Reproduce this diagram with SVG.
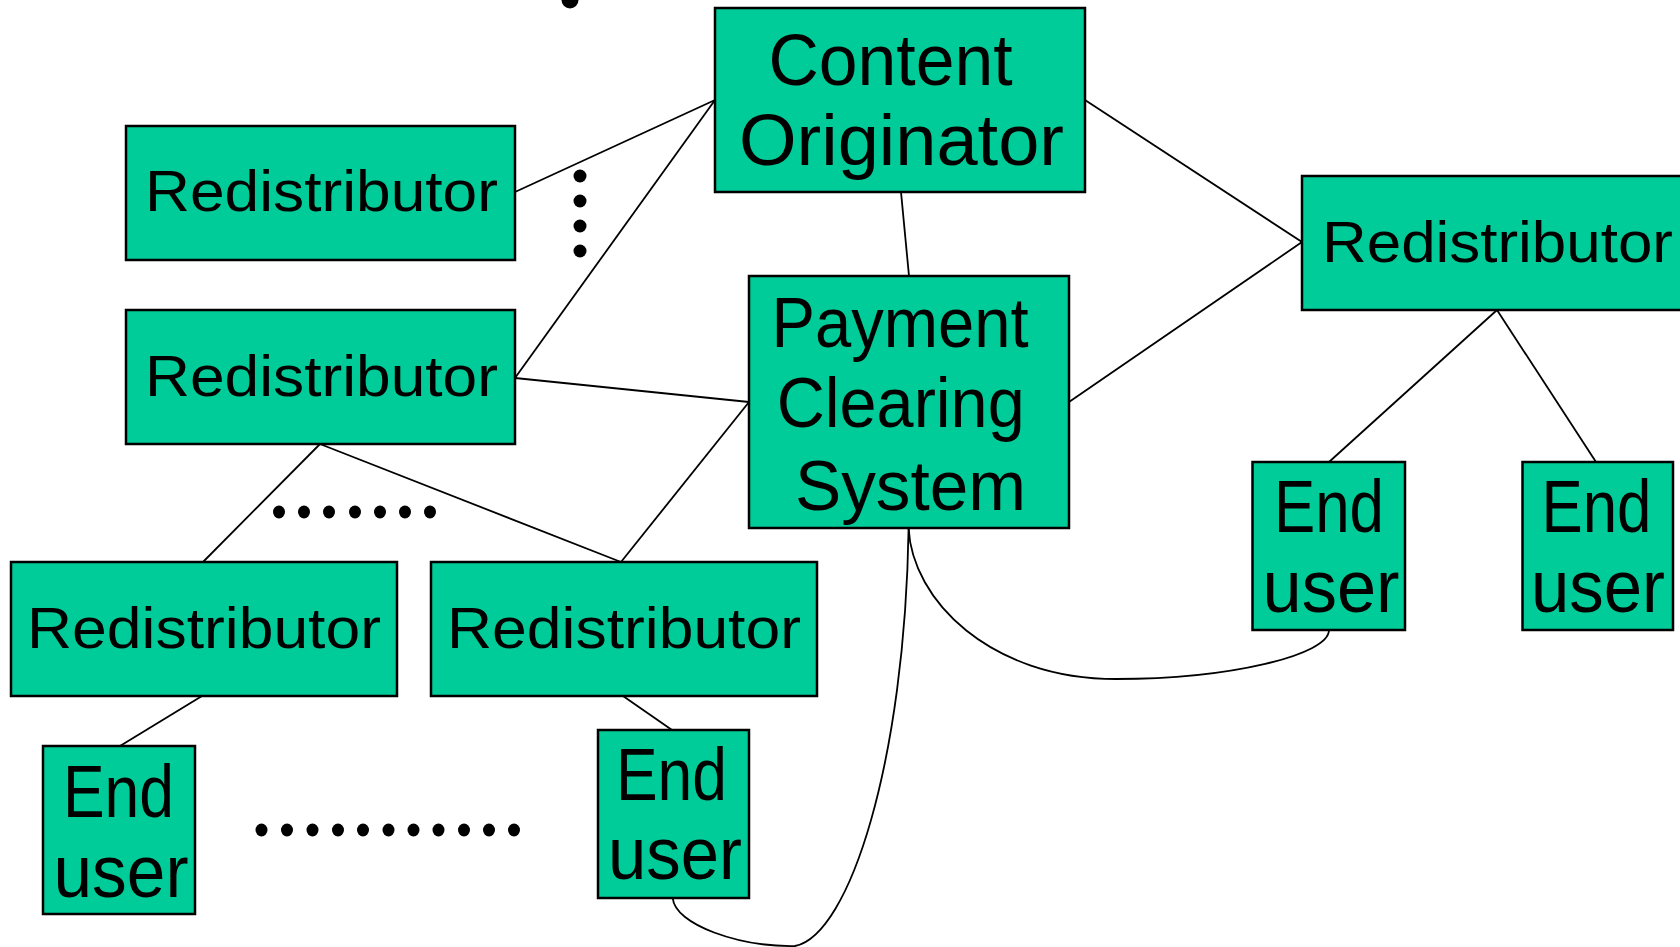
<svg xmlns="http://www.w3.org/2000/svg" width="1680" height="947" viewBox="0 0 1680 947">
<style>
.box{fill:#00CC99;stroke:#000;stroke-width:2.5}
.lbl{font-family:"Liberation Sans",Arial,sans-serif;fill:#000;text-anchor:middle}
.r{font-size:58px}
.c{font-size:72px}
.p{font-size:70px}
.e{font-size:75px}
.ln{fill:none;stroke:#000;stroke-width:1.8}
.dot{fill:#000}
</style>
<rect width="1680" height="947" fill="#fff"/>
<g id="connectors">
<line class="ln" x1="515" y1="192" x2="715" y2="100"/>
<line class="ln" x1="515" y1="378" x2="715" y2="100"/>
<line class="ln" x1="515" y1="378" x2="749" y2="402"/>
<line class="ln" x1="901" y1="192" x2="909" y2="276"/>
<line class="ln" x1="1085" y1="100" x2="1302" y2="242"/>
<line class="ln" x1="1069" y1="402" x2="1302" y2="242"/>
<line class="ln" x1="1497" y1="310" x2="1329" y2="462"/>
<line class="ln" x1="1497" y1="310" x2="1596" y2="462"/>
<line class="ln" x1="320" y1="444" x2="203" y2="562"/>
<line class="ln" x1="320" y1="444" x2="621" y2="562"/>
<line class="ln" x1="749" y1="402" x2="621" y2="562"/>
<line class="ln" x1="202" y1="696" x2="120" y2="746"/>
<line class="ln" x1="623" y1="696" x2="672" y2="730"/>
<path class="ln" d="M908.6,528 C912,600 990,679 1116,679 C1230,679 1329,655 1329,630"/>
<path class="ln" d="M908.6,528 C905,760 850,935 795,946 C740,947 675,925 672.7,898"/>
</g>
<g id="dots">
<ellipse class="dot" cx="570" cy="0" rx="8.5" ry="8.5"/>
<ellipse class="dot" cx="580" cy="176" rx="6.5" ry="6.5"/>
<ellipse class="dot" cx="580" cy="201" rx="6.5" ry="6.5"/>
<ellipse class="dot" cx="580" cy="226" rx="6.5" ry="6.5"/>
<ellipse class="dot" cx="580" cy="251" rx="6.5" ry="6.5"/>
<ellipse class="dot" cx="279" cy="512" rx="6" ry="6.5"/>
<ellipse class="dot" cx="304" cy="512" rx="6" ry="6.5"/>
<ellipse class="dot" cx="329" cy="512" rx="6" ry="6.5"/>
<ellipse class="dot" cx="355" cy="512" rx="6" ry="6.5"/>
<ellipse class="dot" cx="380" cy="512" rx="6" ry="6.5"/>
<ellipse class="dot" cx="405" cy="512" rx="6" ry="6.5"/>
<ellipse class="dot" cx="430" cy="512" rx="6" ry="6.5"/>
<ellipse class="dot" cx="261.5" cy="830" rx="6" ry="6.5"/>
<ellipse class="dot" cx="287" cy="830" rx="6" ry="6.5"/>
<ellipse class="dot" cx="312.5" cy="830" rx="6" ry="6.5"/>
<ellipse class="dot" cx="338" cy="830" rx="6" ry="6.5"/>
<ellipse class="dot" cx="363" cy="830" rx="6" ry="6.5"/>
<ellipse class="dot" cx="388.5" cy="830" rx="6" ry="6.5"/>
<ellipse class="dot" cx="413.5" cy="830" rx="6" ry="6.5"/>
<ellipse class="dot" cx="438.5" cy="830" rx="6" ry="6.5"/>
<ellipse class="dot" cx="464" cy="830" rx="6" ry="6.5"/>
<ellipse class="dot" cx="489" cy="830" rx="6" ry="6.5"/>
<ellipse class="dot" cx="514" cy="830" rx="6" ry="6.5"/>
</g>
<g id="content-originator">
<rect class="box" x="715" y="8" width="370" height="184"/>
<text class="lbl c" x="890.5" y="85" textLength="244" lengthAdjust="spacingAndGlyphs">Content</text>
<text class="lbl c" x="901.5" y="165" textLength="325" lengthAdjust="spacingAndGlyphs">Originator</text>
</g>
<g id="redistributor-1">
<rect class="box" x="126" y="126" width="389" height="134"/>
<text class="lbl r" x="321.5" y="211" textLength="353" lengthAdjust="spacingAndGlyphs">Redistributor</text>
</g>
<g id="redistributor-2">
<rect class="box" x="126" y="310" width="389" height="134"/>
<text class="lbl r" x="321.5" y="396" textLength="353" lengthAdjust="spacingAndGlyphs">Redistributor</text>
</g>
<g id="payment-clearing-system">
<rect class="box" x="749" y="276" width="320" height="252"/>
<text class="lbl p" x="900" y="347" textLength="257" lengthAdjust="spacingAndGlyphs">Payment</text>
<text class="lbl p" x="900.7" y="427" textLength="248" lengthAdjust="spacingAndGlyphs">Clearing</text>
<text class="lbl p" x="910.5" y="510" textLength="231" lengthAdjust="spacingAndGlyphs">System</text>
</g>
<g id="redistributor-right">
<rect class="box" x="1302" y="176" width="390" height="134"/>
<text class="lbl r" x="1497.5" y="262" textLength="351" lengthAdjust="spacingAndGlyphs">Redistributor</text>
</g>
<g id="end-user-right-1">
<rect class="box" x="1252.5" y="462" width="152.5" height="168"/>
<text class="lbl e" x="1329" y="532" textLength="110" lengthAdjust="spacingAndGlyphs">End</text>
<text class="lbl e" x="1331" y="612" textLength="137" lengthAdjust="spacingAndGlyphs">user</text>
</g>
<g id="end-user-right-2">
<rect class="box" x="1522.5" y="462" width="150.5" height="168"/>
<text class="lbl e" x="1596.5" y="532" textLength="110" lengthAdjust="spacingAndGlyphs">End</text>
<text class="lbl e" x="1598" y="612" textLength="134" lengthAdjust="spacingAndGlyphs">user</text>
</g>
<g id="redistributor-bottom-1">
<rect class="box" x="11" y="562" width="386" height="134"/>
<text class="lbl r" x="204" y="648" textLength="354" lengthAdjust="spacingAndGlyphs">Redistributor</text>
</g>
<g id="redistributor-bottom-2">
<rect class="box" x="431" y="562" width="386" height="134"/>
<text class="lbl r" x="624" y="648" textLength="354" lengthAdjust="spacingAndGlyphs">Redistributor</text>
</g>
<g id="end-user-bottom-left">
<rect class="box" x="43" y="746" width="152" height="168"/>
<text class="lbl e" x="118.5" y="817" textLength="111" lengthAdjust="spacingAndGlyphs">End</text>
<text class="lbl e" x="121" y="897" textLength="135" lengthAdjust="spacingAndGlyphs">user</text>
</g>
<g id="end-user-bottom-middle">
<rect class="box" x="598" y="730" width="151" height="168"/>
<text class="lbl e" x="671.5" y="800" textLength="111" lengthAdjust="spacingAndGlyphs">End</text>
<text class="lbl e" x="675" y="879" textLength="134" lengthAdjust="spacingAndGlyphs">user</text>
</g>
</svg>
